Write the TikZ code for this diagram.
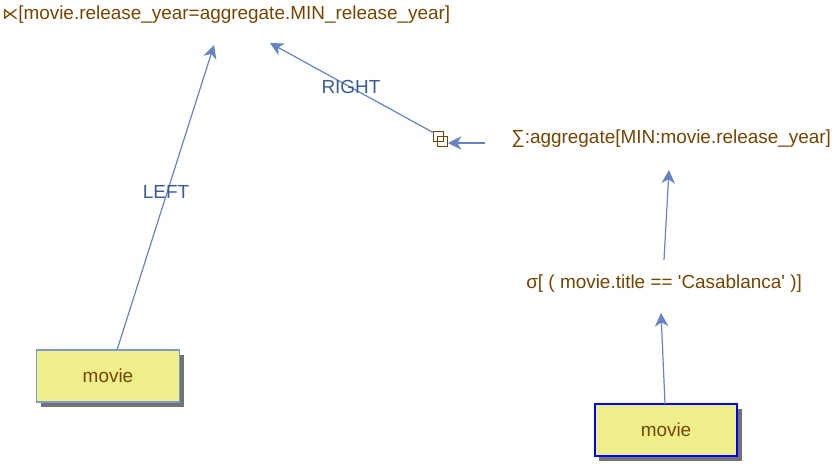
\documentclass[tikz,border=0pt]{standalone}
\usepackage{fontspec}
\setmainfont{Liberation Sans}
\newfontfamily\symfont{DejaVu Sans}
\usetikzlibrary{arrows.meta,shadows}

\definecolor{optext}{HTML}{774400}
\definecolor{edge}{HTML}{6683C2}
\definecolor{edgelabel}{HTML}{3B5A98}
\definecolor{boxfill}{HTML}{EEEE8A}
\definecolor{boxline}{HTML}{7B9BCB}

\begin{document}
\begin{tikzpicture}[x=0.75pt,y=-0.75pt,font=\fontsize{14.2}{17}\selectfont,
  op/.style={text=optext,inner sep=0pt},
  relbox/.style={draw=boxline,fill=boxfill,text=optext,line width=1pt,
    minimum width=107pt,minimum height=39pt,inner sep=0pt,
    drop shadow={shadow xshift=3.5pt,shadow yshift=-3.5pt,fill=gray!90!black,opacity=1}},
  flow/.style={draw=edge,line width=0.9pt,-{Stealth[length=10pt,width=10pt,inset=3pt]}},
  lbl/.style={text=edgelabel,inner sep=0pt}]

  % Frame
  \useasboundingbox (0,0) rectangle (835,464);

  % Operators
  \node[op,anchor=west] (join) at (2,15)
    {{\symfont\fontsize{12}{14}\selectfont ⋉}[movie.release\_year=aggregate.MIN\_release\_year]};
  \node[op,anchor=west] (agg) at (511,139)
    {∑:aggregate[MIN:movie.release\_year]};
  \node[op,anchor=west] (sel) at (526,284)
    {σ[ ( movie.title == \textquotesingle Casablanca\textquotesingle{} )]};

  % Relations
  \node[relbox] (movieL) at (108,376) {movie};
  \node[relbox,draw=blue,line width=1.6pt] (movieR) at (666,430) {movie};

  % Cross product mark
  \node[inner sep=0pt,minimum size=10pt] (cross) at (440,138) {};
  \draw[optext,line width=0.75pt] (433,131) rectangle (443,141);
  \draw[optext,line width=0.75pt] (437,136) rectangle (447,146);

  % Ports
  \coordinate (joinL) at (214,45);
  \coordinate (joinR) at (270,43);
  \coordinate (crossIn) at (448,143);
  \coordinate (crossOut) at (434,133);
  \coordinate (aggIn) at (669,170);
  \coordinate (aggOut) at (485,143);
  \coordinate (selIn) at (661,313);
  \coordinate (selOut) at (664,260);
  \coordinate (movieLOut) at (117,350);
  \coordinate (movieROut) at (665,404);

  % Edges
  \draw[flow] (movieLOut) -- (joinL);
  \draw[flow] (crossOut) -- (joinR);
  \draw[flow] (aggOut) -- (crossIn);
  \draw[flow] (selOut) -- (aggIn);
  \draw[flow] (movieROut) -- (selIn);

  \node[lbl] (left) at (166,192) {LEFT};
  \node[lbl] (right) at (351,87) {RIGHT};

\end{tikzpicture}
\end{document}
